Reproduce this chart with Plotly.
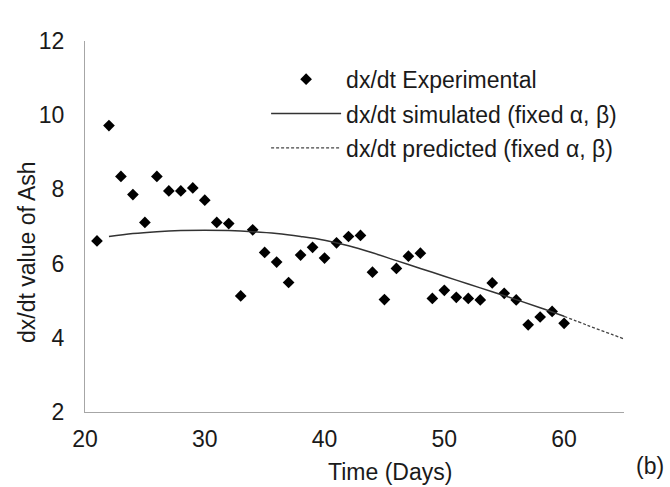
import plotly.graph_objects as go

days = list(range(21, 61))
exp_vals = [6.61, 9.72, 8.35, 7.86, 7.11, 8.35, 7.96, 7.96, 8.04, 7.71,
            7.11, 7.08, 5.13, 6.91, 6.30, 6.04, 5.49, 6.23, 6.44, 6.15,
            6.56, 6.73, 6.76, 5.77, 5.03, 5.87, 6.20, 6.28, 5.06, 5.28,
            5.09, 5.06, 5.02, 5.48, 5.20, 5.02, 4.35, 4.56, 4.71, 4.39]

sim_days = [22, 24, 26, 28, 30, 32, 34, 36, 38, 40, 42, 44, 46, 48, 50, 52, 54, 56, 58, 60]
sim_vals = [6.73, 6.81, 6.86, 6.89, 6.90, 6.89, 6.86, 6.81, 6.73, 6.63,
            6.48, 6.29, 6.08, 5.87, 5.66, 5.45, 5.24, 5.03, 4.81, 4.58]

pred_days = [60, 62, 64, 65]
pred_vals = [4.58, 4.33, 4.09, 3.97]

x_ticks = [20, 30, 40, 50, 60]
y_ticks = [2, 4, 6, 8, 10, 12]

FONT = "Liberation Sans, Arial, sans-serif"
FS = 23

fig = go.Figure()
fig.add_trace(go.Scatter(
    x=days, y=exp_vals, mode="markers", name="dx/dt Experimental",
    marker=dict(symbol="diamond", size=9, color="black"),
    legendgroup="a"))
fig.add_trace(go.Scatter(
    x=sim_days, y=sim_vals, mode="lines", name="dx/dt simulated (fixed α, β)",
    line=dict(color="#333333", width=1.5, shape="spline"),
    legendgroup="b"))
fig.add_trace(go.Scatter(
    x=pred_days, y=pred_vals, mode="lines", name="dx/dt predicted (fixed α, β)",
    line=dict(color="#444444", width=1.3, dash="3px,2px", shape="spline"),
    legendgroup="c"))

fig.update_layout(
    width=670, height=487,
    margin=dict(l=85, r=46, t=41, b=75),
    paper_bgcolor="white", plot_bgcolor="white",
    font=dict(family=FONT, size=FS, color="#1a1a1a"),
    showlegend=True,
    legend=dict(x=0.336, y=0.955, xanchor="left", yanchor="top",
                bgcolor="rgba(0,0,0,0)", font=dict(size=FS),
                itemwidth=70, tracegroupgap=1.5),
    xaxis=dict(range=[20, 65], tickvals=x_ticks, ticktext=[str(v) for v in x_ticks],
               showgrid=False, zeroline=False, showline=True, linecolor="#a6a6a6",
               linewidth=1, ticks="", ticklabelstandoff=6),
    yaxis=dict(range=[2, 12], tickvals=y_ticks, ticktext=[str(v) for v in y_ticks],
               showgrid=False, zeroline=False, showline=True, linecolor="#a6a6a6",
               linewidth=1, ticks="", ticklabelstandoff=15),
    annotations=[
        dict(text="Time (Days)", x=390, y=472, showarrow=False, font=dict(size=FS)),
        dict(text="(b)", x=650, y=466, showarrow=False, font=dict(size=FS)),
        dict(text="dx/dt value of Ash", x=27, y=252, textangle=-90,
             showarrow=False, font=dict(size=FS)),
    ],
)

# convert pixel positions of annotations to paper coords
L, R, T, B = 85, 46, 41, 75
W, H = 670, 487
pw, ph = W - L - R, H - T - B
anns = []
for a in fig.layout.annotations:
    d = a.to_plotly_json()
    px, py = d["x"], d["y"]
    d["xref"] = "paper"; d["yref"] = "paper"
    d["x"] = (px - L) / pw
    d["y"] = (H - B - py) / ph
    d["xanchor"] = "center"; d["yanchor"] = "middle"
    anns.append(d)
fig.layout.annotations = anns

fig.write_html("out.html")
